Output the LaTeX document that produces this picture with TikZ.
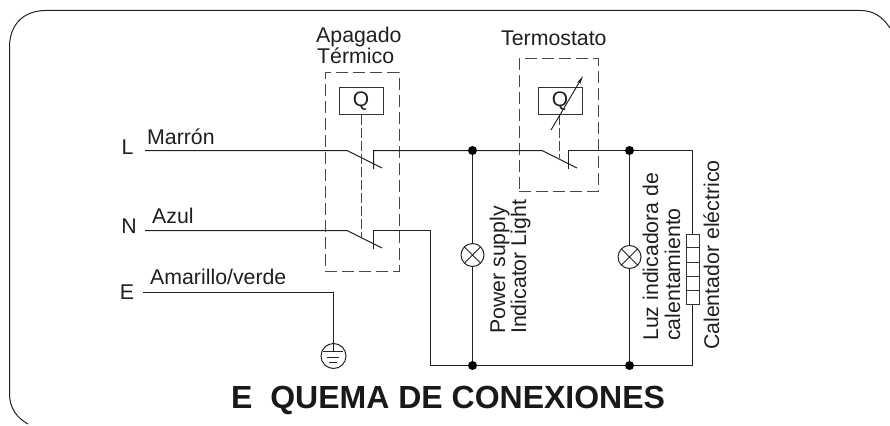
\documentclass[tikz,border=0pt]{standalone}
\usepackage{fontspec}
\usetikzlibrary{arrows.meta}
\setmainfont{Liberation Sans}
\tikzset{
 wire/.style={line width=1pt,color=black!88},
 dashbox/.style={line width=1pt,color=black!72,dash pattern=on 12pt off 5pt},
 link/.style={line width=1pt,color=black!72,dash pattern=on 10pt off 3pt},
 lbl/.style={inner sep=0pt,text=black!88,font=\fontsize{21.3}{21.3}\selectfont,align=left},
 lamp/.style={circle,draw=black!85,line width=1pt,minimum size=23pt,inner sep=0pt,path picture={\draw[line width=0.9pt,black!85] (path picture bounding box.north west)--(path picture bounding box.south east) (path picture bounding box.north east)--(path picture bounding box.south west);}},
 dot/.style={circle,fill=black,minimum size=9pt,inner sep=0pt},
 qbox/.style={draw=black!80,line width=1pt,minimum width=44pt,minimum height=26pt,inner sep=0pt,font=\fontsize{21}{21}\selectfont,text=black!88},
}
\begin{document}
\begin{tikzpicture}[x=1pt,y=-1pt]
\useasboundingbox (0,0) rectangle (890,425);
% border
\draw[wire] (890,28) .. controls (882,16) and (873,10.5) .. (860,10.5) -- (46,10.5) .. controls (22,10.5) and (9.5,26) .. (9.5,47) -- (9.5,394) .. controls (9.5,408) and (17,418) .. (28,424);
% coordinates
\coordinate (Ls) at (145,150.5); \coordinate (Ns) at (145,230.5); \coordinate (Es) at (143,292.5);
\coordinate (c1a) at (347,150.5); \coordinate (c1b) at (382,168); \coordinate (c1c) at (373.5,150.5); \coordinate (c1d) at (373.5,169);
\coordinate (c2a) at (347,230.5); \coordinate (c2b) at (382,248); \coordinate (c2c) at (373.5,230.5); \coordinate (c2d) at (373.5,249);
\coordinate (c3a) at (542,150.5); \coordinate (c3b) at (577,168); \coordinate (c3c) at (568.5,150.5); \coordinate (c3d) at (568.5,169);
\coordinate (NE) at (692.5,150.5); \coordinate (SE) at (692.5,365.5); \coordinate (SW) at (430.5,365.5); \coordinate (NW) at (430.5,230.5);
\coordinate (l1) at (361.5,237); \coordinate (l2) at (559.5,158);
\coordinate (gc) at (333.5,292.5);
% boxes
\node[dashbox,draw,minimum width=74pt,minimum height=198pt,inner sep=0pt] (b1) at (362,172) {};
\node[dashbox,draw,minimum width=79pt,minimum height=132pt,inner sep=0pt] (b2) at (558.5,125) {};
\node[qbox] (q1) at (361,101) {Q\hspace{3pt}};
\node[qbox] (q2) at (560,101) {Q\hspace{3pt}};
% junctions and lamps
\node[dot] (j1) at (472.5,150.5) {}; \node[dot] (j2) at (629.5,150.5) {};
\node[dot] (j3) at (472.5,365.5) {}; \node[dot] (j4) at (629.5,365.5) {};
\node[lamp] (lamp1) at (472.5,255) {}; \node[lamp] (lamp2) at (629.5,257) {};
\node[draw=black!80,line width=1pt,minimum width=13pt,minimum height=70pt,inner sep=0pt] (heat) at (692.5,269) {};
\node[circle,draw=black!85,line width=1pt,minimum size=25pt,inner sep=0pt] (gnd) at (333.5,356) {};
% wires
\draw[wire] (Ls) -- (c1a) -- (c1b);
\draw[wire] (c1d) -- (c1c) -- (j1) -- (c3a) -- (c3b);
\draw[wire] (c3d) -- (c3c) -- (j2) -- (NE) -- (heat.north -| NE);
\draw[wire] (heat.south -| NE) -- (SE) -- (j4) -- (j3) -- (SW) -- (NW) -- (c2c) -- (c2d);
\draw[wire] (Ns) -- (c2a) -- (c2b);
\draw[wire] (Es) -- (gc) -- (333.5,351);
\draw[wire] (j1) -- (lamp1) -- (j3);
\draw[wire] (j2) -- (lamp2) -- (j4);
\draw[link] (q1.south -| l1) -- (l1);
\draw[link] (q2.south -| l2) -- (l2);
% heater dividers
\foreach \y in {247.5,262.5,276.5,290.5} \draw[line width=0.9pt,black!80] (686,\y) -- (699,\y);
% ground
\draw[line width=0.9pt,black!85] (323,351.5) -- (343,351.5) (327,357) -- (339,357) (329,362.5) -- (337,362.5);
% variable arrow
\draw[line width=0.9pt,black!90,-{Stealth[length=9pt,width=3.5pt]}] (551,130) -- (583,76);
% labels
\node[lbl,anchor=base west] (t1) at (316,43) {Apagado};
\node[lbl,anchor=base west] (t2) at (317,64) {Térmico};
\node[lbl,anchor=base west] (t3) at (501,46) {Termostato};
\node[lbl,anchor=base] (tl) at (127.5,154) {L};
\node[lbl,anchor=base] (tn) at (129,233) {N};
\node[lbl,anchor=base] (te) at (127,299) {E};
\node[lbl,anchor=base west] (m1) at (147,144) {Marrón};
\node[lbl,anchor=base west] (m2) at (152,223) {Azul};
\node[lbl,anchor=base west] (m3) at (150,284) {Amarillo/verde};
\node[lbl,rotate=90,anchor=base west] (v1) at (505,334) {Power supply};
\node[lbl,rotate=90,anchor=base west] (v2) at (526,334) {Indicator Light};
\node[lbl,rotate=90,anchor=base west] (v3) at (658,341) {Luz indicadora de};
\node[lbl,rotate=90,anchor=base west] (v4) at (680,341) {calentamiento};
\node[lbl,rotate=90,anchor=base west] (v5) at (719,350) {Calentador eléctrico};
\node[lbl,anchor=base west,font=\bfseries\fontsize{32}{32}\selectfont,text=black!90] (title) at (231,408) {E\ \ QUEMA DE CONEXIONES};
\end{tikzpicture}
\end{document}
